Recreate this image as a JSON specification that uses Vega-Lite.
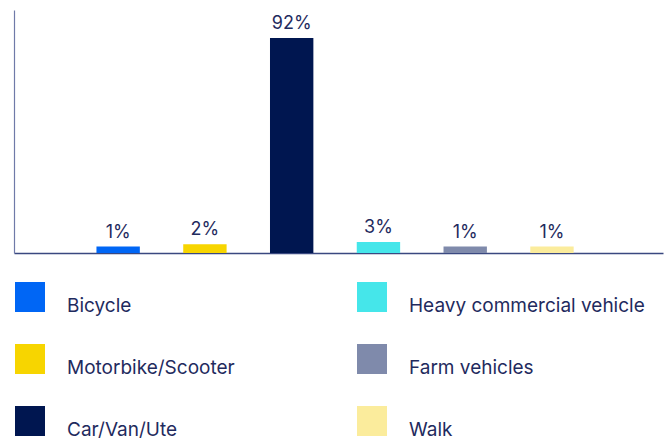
{
  "$schema": "https://vega.github.io/schema/vega-lite/v6.json",
  "autosize": "none",
  "width": 649,
  "height": 243,
  "padding": {"left": 14, "top": 10, "right": 1, "bottom": 188},
  "background": "white",
  "config": {
    "view": {"stroke": null},
    "font": "Inter"
  },
  "data": {
    "values": [
      {"mode": "Bicycle", "value": 1, "label": "1%"},
      {"mode": "Motorbike/Scooter", "value": 2, "label": "2%"},
      {"mode": "Car/Van/Ute", "value": 92, "label": "92%"},
      {"mode": "Heavy commercial vehicle", "value": 3, "label": "3%"},
      {"mode": "Farm vehicles", "value": 1, "label": "1%"},
      {"mode": "Walk", "value": 1, "label": "1%"}
    ]
  },
  "encoding": {
    "x": {
      "field": "mode",
      "type": "nominal",
      "sort": null,
      "scale": {"paddingInner": 0.5, "paddingOuter": 0.99, "align": 0.48},
      "axis": {"title": null, "labels": false, "ticks": false, "domainColor": "#3a4880", "domainWidth": 1.6}
    },
    "y": {
      "field": "value",
      "type": "quantitative",
      "scale": {"domain": [-1.8, 104.2], "nice": false, "zero": false},
      "axis": {"title": null, "labels": false, "ticks": false, "grid": false, "domainColor": "#6f7aa8", "domainWidth": 1.2}
    }
  },
  "layer": [
    {
      "mark": {"type": "bar"},
      "encoding": {
        "y2": {"datum": -1.8},
        "color": {
          "field": "mode",
          "type": "nominal",
          "scale": {
            "domain": ["Bicycle", "Heavy commercial vehicle", "Motorbike/Scooter", "Farm vehicles", "Car/Van/Ute", "Walk"],
            "range": ["#0066f5", "#45e6ea", "#f7d500", "#7f8aab", "#001650", "#fbec9c"]
          },
          "legend": {
            "title": null,
            "orient": "none",
            "legendX": 1,
            "legendY": 272,
            "columns": 2,
            "direction": "horizontal",
            "symbolType": "square",
            "symbolSize": 900,
            "symbolStrokeWidth": 0,
            "symbolOpacity": 1,
            "labelFont": "Inter",
            "labelFontSize": 19,
            "labelColor": "#1f2b5e",
            "labelBaseline": "top",
            "labelOffset": 22,
            "labelLimit": 400,
            "columnPadding": 122,
            "rowPadding": 28,
            "padding": 0
          }
        }
      }
    },
    {
      "mark": {"type": "text", "dy": -9, "baseline": "alphabetic", "fontSize": 18, "color": "#1f2b5e", "font": "Inter"},
      "encoding": {
        "text": {"field": "label"}
      }
    }
  ]
}
